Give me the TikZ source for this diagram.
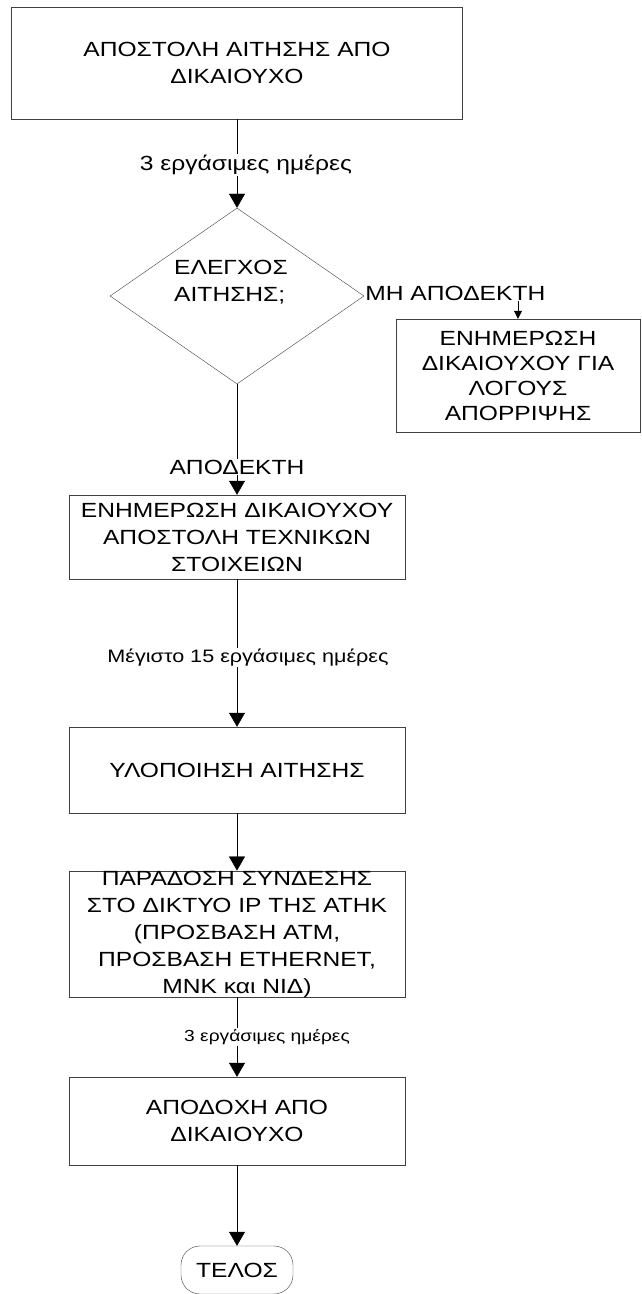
\documentclass[tikz,border=0pt]{standalone}
\usepackage{fontspec}
\setmainfont{Liberation Sans}[FakeStretch=1.2]
\usepackage{tikz}
\usetikzlibrary{positioning, arrows.meta, shapes.geometric}
\tikzset{->,>={Triangle[width=16pt,length=14pt]},
x=1pt, y=-1pt, line width=0.8pt,
every node/.style={font=\fontsize{20.5}{27}\selectfont},
box/.style={draw=black!75, align=center, inner sep=0pt},
decision/.style={draw=black!75, diamond, inner sep=0pt,
  minimum width=254, minimum height=176},
term/.style={draw=black!75, fill=white, rectangle, rounded corners=19pt,
  minimum width=112, minimum height=48},
lbl/.style={fill=white, inner sep=1pt}}

\begin{document}
\begin{tikzpicture}
\useasboundingbox (0,0) rectangle (641,1294);
\clip (0,0) rectangle (641,1294);
%\draw[help lines] (0,0) grid[step=50] (641,1294);
\node[box, minimum width=451, minimum height=112] (send) at (237,63) {ΑΠΟΣΤΟΛΗ ΑΙΤΗΣΗΣ ΑΠΟ\\ΔΙΚΑΙΟΥΧΟ};
\node[decision, label={[name=dectxt,align=left,xshift=-6pt,yshift=14pt]center:{ΕΛΕΓΧΟΣ\\ΑΙΤΗΣΗΣ;}}] (dec) at (237,296) {};
\node[box, minimum width=244, minimum height=113, font=\fontsize{20.5}{25}\selectfont] (rej) at (518,375.5) {ΕΝΗΜΕΡΩΣΗ\\ΔΙΚΑΙΟΥΧΟΥ ΓΙΑ\\ΛΟΓΟΥΣ\\ΑΠΟΡΡΙΨΗΣ};
\node[box, minimum width=336, minimum height=84] (info) at (237,537) {ΕΝΗΜΕΡΩΣΗ ΔΙΚΑΙΟΥΧΟΥ\\ΑΠΟΣΤΟΛΗ ΤΕΧΝΙΚΩΝ\\ΣΤΟΙΧΕΙΩΝ};
\node[box, minimum width=336, minimum height=86] (impl) at (237,770) {ΥΛΟΠΟΙΗΣΗ ΑΙΤΗΣΗΣ};
\node[box, minimum width=336, minimum height=124] (deliv) at (237,934) {ΠΑΡΑΔΟΣΗ ΣΥΝΔΕΣΗΣ\\ΣΤΟ ΔΙΚΤΥΟ IP ΤΗΣ ΑΤΗΚ\\(ΠΡΟΣΒΑΣΗ ΑΤΜ,\\ΠΡΟΣΒΑΣΗ ETHERNET,\\ΜΝΚ και ΝΙΔ)};
\node[box, minimum width=336, minimum height=88] (accept) at (237,1121) {ΑΠΟΔΟΧΗ ΑΠΟ\\ΔΙΚΑΙΟΥΧΟ};
\node[term] (stop) at (237,1270) {ΤΕΛΟΣ};
\draw
(send) edge node[lbl,pos=0.52,xshift=9pt] {3 εργάσιμες ημέρες} (dec)
(dec) edge node[lbl,pos=0.75] {ΑΠΟΔΕΚΤΗ} (info)
(info) edge node[lbl,pos=0.53,xshift=11pt,font=\fontsize{18}{22}\selectfont] {Μέγιστο 15 εργάσιμες ημέρες} (impl)
(impl) edge (deliv)
(deliv) edge node[lbl,pos=0.5,xshift=30pt,font=\fontsize{16}{20}\selectfont] {3 εργάσιμες ημέρες} (accept)
(accept) edge (stop)
;
\draw[-{Triangle[width=8pt,length=8pt]}] (dec.east) -| node[lbl,pos=0,anchor=west,yshift=3pt] {ΜΗ ΑΠΟΔΕΚΤΗ} (rej.north);
\end{tikzpicture}
\end{document}
